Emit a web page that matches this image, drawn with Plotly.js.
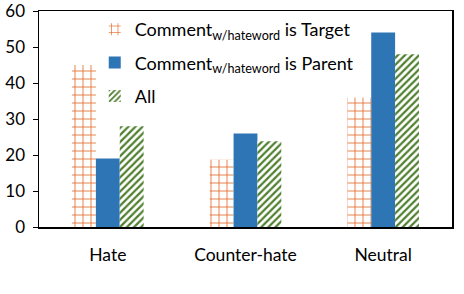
<!DOCTYPE html>
<html>
<head>
<meta charset="utf-8">
<script src="https://cdn.plot.ly/plotly-3.0.1.min.js"></script>
<style>html,body{margin:0;padding:0;background:#fff;}#chart{width:464px;height:294px;}</style>
</head>
<body>
<div id="chart"></div>
<script>
const categories = ["Hate", "Counter-hate", "Neutral"];
const targetValues = [45, 18.7, 36];
const parentValues = [19, 26, 54];
const allValues = [28, 23.8, 48];
const seriesNames = [
  "Comment<sub>w/hateword</sub> is Target",
  "Comment<sub>w/hateword</sub> is Parent",
  "All"
];
const yTicks = [0, 10, 20, 30, 40, 50, 60];

const orange = "#E36C2B";
const blue = "#2E75B6";
const green = "#4F7F2E";

const traces = [
  {
    type: "bar", x: categories, y: targetValues, name: seriesNames[0], legendgroup: "a",
    marker: {color: "#ffffff", line: {width: 0},
      pattern: {shape: "+", fgcolor: orange, bgcolor: "#ffffff", fgopacity: 1, size: 8, solidity: 0.2, fillmode: "replace"}}
  },
  {
    type: "bar", x: categories, y: parentValues, name: seriesNames[1], legendgroup: "b",
    marker: {color: blue, line: {width: 0}}
  },
  {
    type: "bar", x: categories, y: allValues, name: seriesNames[2], legendgroup: "c",
    marker: {color: "#ffffff", line: {width: 0},
      pattern: {shape: "/", fgcolor: green, bgcolor: "#ffffff", fgopacity: 1, size: 5, solidity: 0.45, fillmode: "replace"}}
  }
];

const layout = {
  width: 464, height: 294,
  margin: {l: 39, r: 12, t: 11, b: 67},
  paper_bgcolor: "#ffffff", plot_bgcolor: "#ffffff",
  font: {family: "Lato, 'Open Sans', sans-serif", size: 17, color: "#000"},
  barmode: "group", bargap: 0.48, bargroupgap: 0,
  showlegend: true,
  legend: {x: 0.135, y: 1.0, xanchor: "left", yanchor: "top", bgcolor: "rgba(0,0,0,0)",
    font: {size: 18}, tracegroupgap: 7, itemwidth: 30},
  xaxis: {showline: true, mirror: true, linecolor: "#000", linewidth: 1.5,
    ticks: "", showgrid: false, ticklabelstandoff: 11, tickfont: {size: 17.5}},
  yaxis: {range: [0, 60], tickvals: yTicks, showline: true, mirror: true, linecolor: "#000", linewidth: 1.5,
    ticks: "outside", ticklen: 5, tickcolor: "#000", showgrid: false, zeroline: false,
    tickfont: {size: 17}, ticklabelstandoff: 4, ticklabeloverflow: "allow"}
};

Plotly.newPlot("chart", traces, layout, {staticPlot: true, displayModeBar: false});
</script>
</body>
</html>
